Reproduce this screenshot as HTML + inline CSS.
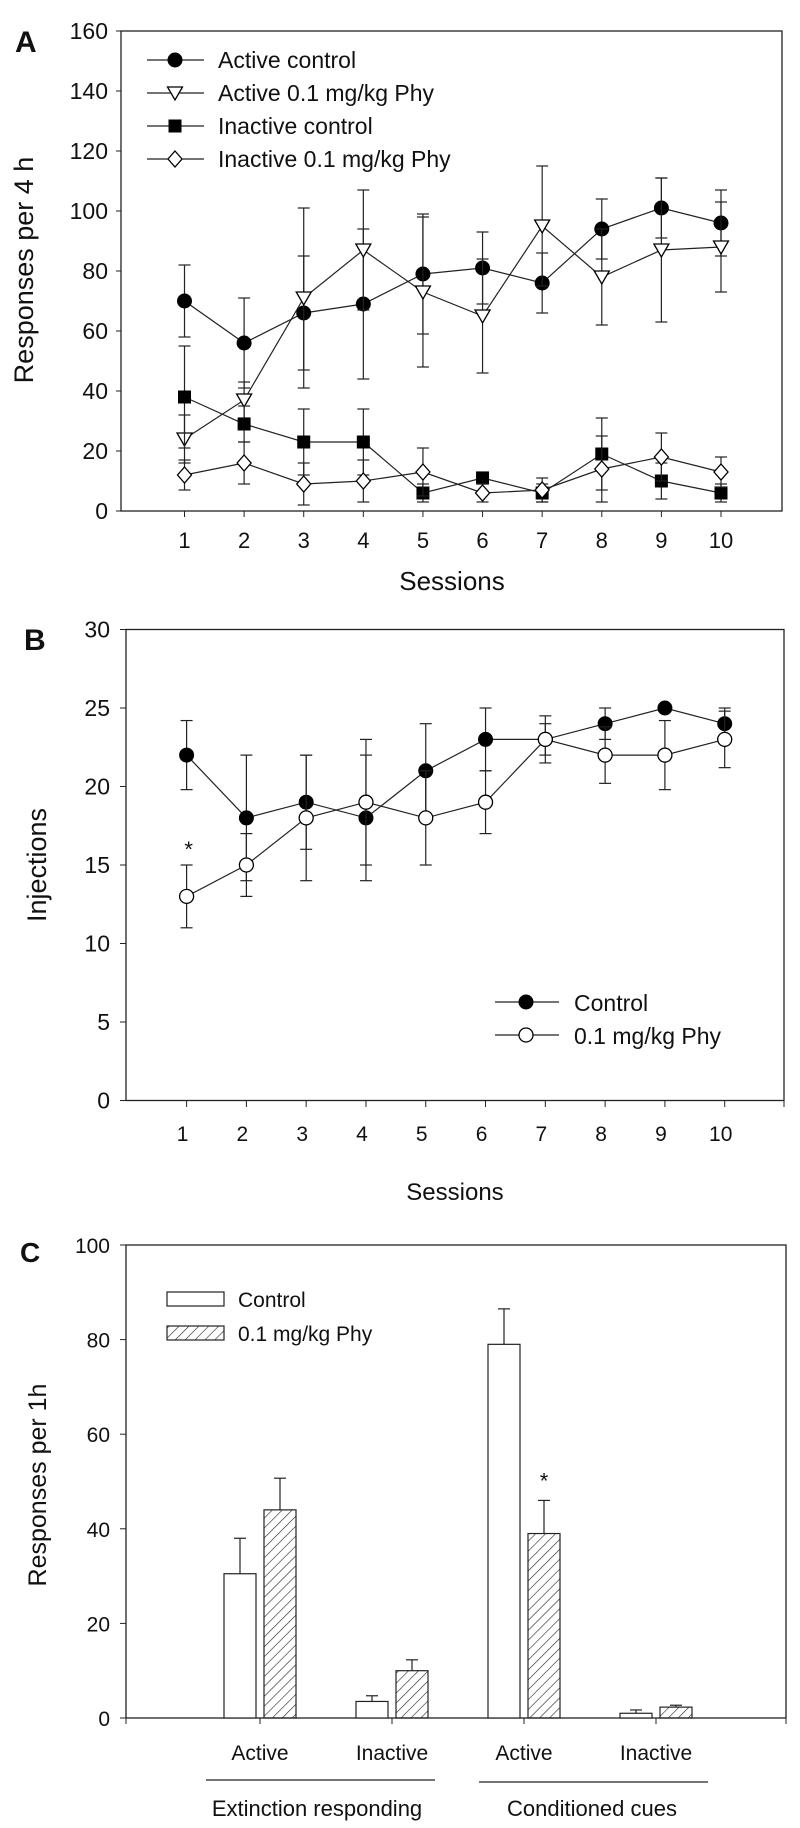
<!DOCTYPE html>
<html><head><meta charset="utf-8"><style>
body{margin:0;background:#fff}
svg{display:block}
text{font-family:"Liberation Sans Narrow","Liberation Sans",sans-serif;fill:#111}
.r{font-family:"Liberation Sans",sans-serif}
</style></head><body>
<svg id="s" width="800" height="1828" viewBox="0 0 800 1828" xmlns="http://www.w3.org/2000/svg">
<defs><pattern id="hatch" width="7" height="7" patternUnits="userSpaceOnUse" patternTransform="rotate(45)"><line x1="0" y1="0" x2="0" y2="7" stroke="#222" stroke-width="1.2"/></pattern></defs>
</svg>
<script>
// Panel A data
const sessions=[1,2,3,4,5,6,7,8,9,10];
const aActCtl=[70,56,66,69,79,81,76,94,101,96];
const aActCtlErr=[12,15,19,25,20,12,10,10,10,11];
const aActPhy=[24,37,71,87,73,65,95,78,87,88];
const aActPhyErr=[8,6,30,20,25,19,20,16,24,15];
const aInCtl=[38,29,23,23,6,11,6,19,10,6];
const aInCtlErr=[17,6,11,11,3,2,3,12,6,3];
const aInPhy=[12,16,9,10,13,6,7,14,18,13];
const aInPhyErr=[5,7,7,7,8,3,4,11,8,5];
const aYTicks=[0,20,40,60,80,100,120,140,160];
// Panel B data
const bCtl=[22,18,19,18,21,23,23,24,25,24];
const bCtlErr=[2.2,4,3,4,3,2,1.5,1,0,1];
const bPhy=[13,15,18,19,18,19,23,22,22,23];
const bPhyErr=[2,2,4,4,3,2,1,1.8,2.2,1.8];
const bYTicks=[0,5,10,15,20,25,30];
// Panel C data
const cCats=["Active","Inactive","Active","Inactive"];
const cCtl=[30.5,3.5,79,1];
const cCtlErr=[7.5,1.2,7.5,0.7];
const cPhy=[44,10,39,2.3];
const cPhyErr=[6.7,2.3,7,0.4];
const cYTicks=[0,20,40,60,80,100];

const S=document.getElementById('s');
const NS='http://www.w3.org/2000/svg';
function el(tag,attrs,parent){const e=document.createElementNS(NS,tag);for(const k in attrs)e.setAttribute(k,attrs[k]);(parent||S).appendChild(e);return e;}
function txt(x,y,s,attrs){const e=el('text',Object.assign({x:x,y:y},attrs||{}));e.textContent=s;return e;}

// ---------- Panel A ----------
const gA=el('g',{});


const aX=v=>184.5+(v-1)*(721-184.5)/9;
const aY=v=>511-v*3;
el('rect',{x:121,y:31,width:661,height:480,fill:'none',stroke:'#222','stroke-width':1.3},gA);
aYTicks.forEach(t=>{el('line',{x1:116,x2:121,y1:aY(t),y2:aY(t),stroke:'#222'},gA);
 const l=txt(108,aY(t)+8,String(t),{'text-anchor':'end','font-size':23},gA);gA.appendChild(l);
 });
sessions.forEach(s=>{el('line',{x1:aX(s),x2:aX(s),y1:511,y2:517,stroke:'#222'},gA);
 const l=txt(aX(s),548,String(s),{'text-anchor':'middle','font-size':22});gA.appendChild(l);
 });
const aT=txt(15,52,'A',{'font-size':30,'font-weight':'bold'});gA.appendChild(aT);

const aYl=txt(0,0,'Responses per 4 h',{'font-size':27,'text-anchor':'middle',transform:'translate(33,270) rotate(-90)'});gA.appendChild(aYl);

const aXl=txt(452,590,'Sessions',{'font-size':26,'text-anchor':'middle'});gA.appendChild(aXl);


function marker(g,type,x,y,r){
 if(type==='dot')return el('circle',{cx:x,cy:y,r:r||7,fill:'#000',stroke:'#000'},g);
 if(type==='open')return el('circle',{cx:x,cy:y,r:r||7,fill:'#fff',stroke:'#000','stroke-width':1.3},g);
 if(type==='sq')return el('rect',{x:x-6.5,y:y-6.5,width:13,height:13,fill:'#000'},g);
 if(type==='tri')return el('polygon',{points:`${x-7.5},${y-6} ${x+7.5},${y-6} ${x},${y+7}`,fill:'#fff',stroke:'#000','stroke-width':1.3},g);
 if(type==='dia')return el('polygon',{points:`${x},${y-8} ${x+7},${y} ${x},${y+8} ${x-7},${y}`,fill:'#fff',stroke:'#000','stroke-width':1.3},g);
}
function series(g,name,xs,vals,errs,X,Y,type){
 const sg=el('g',{},g);
 
 
 xs.forEach((s,i)=>{const x=X(s);
  el('line',{x1:x,x2:x,y1:Y(vals[i]-errs[i]),y2:Y(vals[i]+errs[i]),stroke:'#222','stroke-width':1.2},sg);
  [vals[i]-errs[i],vals[i]+errs[i]].forEach(v=>el('line',{x1:x-6,x2:x+6,y1:Y(v),y2:Y(v),stroke:'#222','stroke-width':1.2},sg));});
 el('polyline',{points:xs.map((s,i)=>X(s)+','+Y(vals[i])).join(' '),fill:'none',stroke:'#222','stroke-width':1.2},sg);
 xs.forEach((s,i)=>{const m=marker(sg,type,X(s),Y(vals[i]));});
}
series(gA,'active-control-series',sessions,aActCtl,aActCtlErr,aX,aY,'dot');
series(gA,'active-phy-series',sessions,aActPhy,aActPhyErr,aX,aY,'tri');
series(gA,'inactive-control-series',sessions,aInCtl,aInCtlErr,aX,aY,'sq');
series(gA,'inactive-phy-series',sessions,aInPhy,aInPhyErr,aX,aY,'dia');
[['Active control','dot'],['Active 0.1 mg/kg Phy','tri'],['Inactive control','sq'],['Inactive 0.1 mg/kg Phy','dia']].forEach((e,i)=>{
 const y=60+i*33;const lg=el('g',{},gA);
 
 el('line',{x1:147,x2:204,y1:y,y2:y,stroke:'#222','stroke-width':1.2},lg);marker(lg,e[1],175,y);
 const t=txt(218,y+8,e[0],{'font-size':23});lg.appendChild(t);});

// ---------- Panel B ----------
const gB=el('g',{});


const bX=v=>186.6+(v-1)*(724.7-186.6)/9;
const bY=v=>1100.5-v*15.7;
el('rect',{x:126,y:bY(30),width:658,height:30*15.7,fill:'none',stroke:'#222','stroke-width':1.3},gB);
bYTicks.forEach(t=>{el('line',{x1:120,x2:126,y1:bY(t),y2:bY(t),stroke:'#222'},gB);
 const l=txt(110,bY(t)+8,String(t),{'text-anchor':'end','font-size':23});gB.appendChild(l);
 });
sessions.forEach(s=>{el('line',{x1:bX(s),x2:bX(s),y1:1100.5,y2:1107,stroke:'#222'},gB);
 const l=txt(bX(s)-4,1141,String(s),{'text-anchor':'middle','font-size':21,'class':'r'});gB.appendChild(l);
 });
sessions.slice(0).forEach(()=>{});
el('line',{x1:784,x2:784,y1:1100.5,y2:1107,stroke:'#222'},gB);
const bT=txt(24,650,'B',{'font-size':30,'font-weight':'bold','class':'r'});gB.appendChild(bT);

const bYl=txt(0,0,'Injections',{'font-size':27,'text-anchor':'middle','class':'r',transform:'translate(46,865) rotate(-90)'});gB.appendChild(bYl);

const bXl=txt(455,1200,'Sessions',{'font-size':24,'text-anchor':'middle','class':'r'});gB.appendChild(bXl);

series(gB,'b-control-series',sessions,bCtl,bCtlErr,bX,bY,'dot');
series(gB,'b-phy-series',sessions,bPhy,bPhyErr,bX,bY,'open');
const bStar=txt(bX(1)+2,sessions.length?bY(bPhy[0]+bPhyErr[0])-8:0,'*',{'font-size':22,'text-anchor':'middle','class':'r'});gB.appendChild(bStar);

[['Control','dot'],['0.1 mg/kg Phy','open']].forEach((e,i)=>{
 const y=1002+i*33;const lg=el('g',{},gB);
 
 el('line',{x1:495,x2:559,y1:y,y2:y,stroke:'#222','stroke-width':1.2},lg);marker(lg,e[1],526,y);
 const t=txt(574,y+9,e[0],{'font-size':23});lg.appendChild(t);});

// ---------- Panel C ----------
const gC=el('g',{});


const cY=v=>1718-v*4.73;
const cGroupX=i=>260+i*132;
el('rect',{x:126,y:cY(100),width:660,height:473,fill:'none',stroke:'#222','stroke-width':1.3},gC);
cYTicks.forEach(t=>{el('line',{x1:120,x2:126,y1:cY(t),y2:cY(t),stroke:'#222'},gC);
 const l=txt(110,cY(t)+8,String(t),{'text-anchor':'end','font-size':21,'class':'r'});gC.appendChild(l);
 });
cCats.forEach((c,i)=>{const x=cGroupX(i);
 el('line',{x1:x,x2:x,y1:1718,y2:1724,stroke:'#222'},gC);
 const l=txt(x,1760,c,{'text-anchor':'middle','font-size':21,'class':'r'});gC.appendChild(l);
 
 [[cCtl,cCtlErr,-20,'#fff','c-control-bar'],[cPhy,cPhyErr,20,'url(#hatch)','c-phy-bar']].forEach(b=>{
  const cx=x+b[2],v=b[0][i],e=b[1][i];
  const r=el('rect',{x:cx-16,y:cY(v),width:32,height:cY(0)-cY(v),fill:b[3],stroke:'#222','stroke-width':1.2},gC);
  
  el('line',{x1:cx,x2:cx,y1:cY(v),y2:cY(v+e),stroke:'#222','stroke-width':1.2},gC);
  el('line',{x1:cx-6,x2:cx+6,y1:cY(v+e),y2:cY(v+e),stroke:'#222','stroke-width':1.2},gC);});
});
el('line',{x1:126,x2:126,y1:1718,y2:1724,stroke:'#222'},gC);
el('line',{x1:786,x2:786,y1:1718,y2:1724,stroke:'#222'},gC);
const cStar=txt(cGroupX(2)+20,cY(cPhy[2]+cPhyErr[2])-12,'*',{'font-size':22,'text-anchor':'middle','class':'r'});gC.appendChild(cStar);

el('line',{x1:206,x2:435,y1:1780,y2:1780,stroke:'#222','stroke-width':1.2},gC);
el('line',{x1:479,x2:708,y1:1782,y2:1782,stroke:'#222','stroke-width':1.2},gC);
const g1=txt(317,1816,'Extinction responding',{'text-anchor':'middle','font-size':22,'class':'r'});gC.appendChild(g1);

const g2=txt(592,1816,'Conditioned cues',{'text-anchor':'middle','font-size':22,'class':'r'});gC.appendChild(g2);

const cT=txt(20,1262,'C',{'font-size':28,'font-weight':'bold','class':'r'});gC.appendChild(cT);

const cYl=txt(0,0,'Responses per 1h',{'font-size':25,'text-anchor':'middle','class':'r',transform:'translate(46,1485) rotate(-90)'});gC.appendChild(cYl);

[['Control','#fff',1292],['0.1 mg/kg Phy','url(#hatch)',1326]].forEach(e=>{
 const lg=el('g',{},gC);
 
 el('rect',{x:167,y:e[2],width:57,height:14,fill:e[1],stroke:'#222','stroke-width':1.2},lg);
 const t=txt(238,e[2]+15,e[0],{'font-size':21,'class':'r'});lg.appendChild(t);});
</script>
</body></html>
